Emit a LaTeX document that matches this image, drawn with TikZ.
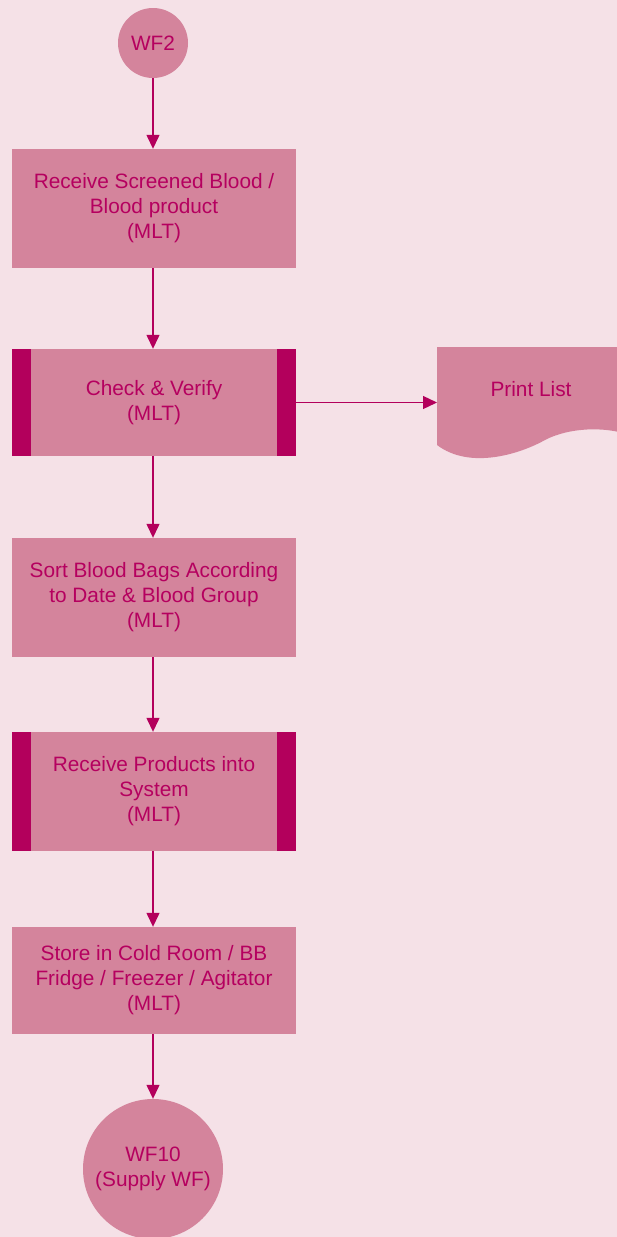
\documentclass[tikz,border=0pt]{standalone}
\usepackage{fontspec}
\setmainfont{Liberation Sans}
\usetikzlibrary{arrows.meta}
\definecolor{bgpink}{HTML}{F5E1E7}
\definecolor{boxfill}{HTML}{D4849C}
\definecolor{deep}{HTML}{B3005C}
\definecolor{ink}{HTML}{B5005F}
\tikzset{
  base/.style={font=\fontsize{20.8}{25}\selectfont, text=ink, align=center, inner sep=0pt},
  procbox/.style={base, rectangle, fill=boxfill, minimum width=284pt},
  term/.style={base, circle, fill=boxfill},
  flow/.style={draw=deep, line width=1.3pt, -{Triangle[width=13pt,length=14pt]}},
}
\begin{document}
\begin{tikzpicture}[x=1pt,y=-1pt]
  \useasboundingbox (0,0) rectangle (616,1237);
  \fill[bgpink] (-5,-5) rectangle (621,1242);

  % terminators
  \node[term, minimum size=70pt] (wf2) at (153,43) {WF2};
  \node[term, minimum size=140pt] (wf10) at (153,1169) {WF10\\(Supply WF)};

  % process steps
  \node[procbox, minimum height=119pt] (recv) at (154,208.5) {Receive Screened Blood /\\Blood product\\(MLT)};
  \node[procbox, minimum height=107pt] (check) at (154,402.5) {Check \& Verify\\(MLT)};
  \node[procbox, minimum height=119pt] (sort) at (154,597.5) {Sort Blood Bags According\\to Date \& Blood Group\\(MLT)};
  \node[procbox, minimum height=119pt] (sys) at (154,791.5) {Receive Products into\\System\\(MLT)};
  \node[procbox, minimum height=107pt] (store) at (154,980.5) {Store in Cold Room / BB\\Fridge / Freezer / Agitator\\(MLT)};

  % side bars of the predefined-process steps
  \foreach \n in {check,sys}{
    \fill[deep] (\n.north west) rectangle ([xshift=19pt]\n.south west);
    \fill[deep] ([xshift=-19pt]\n.north east) rectangle (\n.south east);
  }

  % document shape
  \node[minimum width=179pt, minimum height=113pt, inner sep=0pt, anchor=north west] (plist) at (437,347) {};
  \fill[boxfill] (plist.north west) -- ([xshift=10pt]plist.north east) -- (626,434)
    .. controls (605,427) and (570,427) .. (545,440)
    .. controls (520,454) and (470,470) .. (437,445) -- cycle;
  \node[base] (pltext) at (531,389) {Print List};

  % connectors, all on the vertical axis of the terminators
  \draw[flow] (wf2) -- (recv.north -| wf2);
  \draw[flow] (recv.south -| wf2) -- (check.north -| wf2);
  \draw[flow] (check.east) -- (check.east -| plist.west);
  \draw[flow] (check.south -| wf2) -- (sort.north -| wf2);
  \draw[flow] (sort.south -| wf2) -- (sys.north -| wf2);
  \draw[flow] (sys.south -| wf2) -- (store.north -| wf2);
  \draw[flow] (store.south -| wf2) -- (wf10);
\end{tikzpicture}
\end{document}
